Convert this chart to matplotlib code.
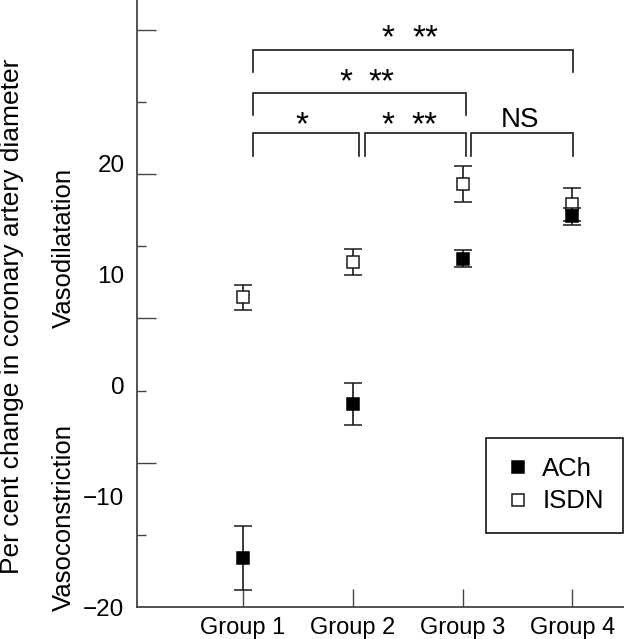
import numpy as np
import matplotlib
matplotlib.use('Agg')
import matplotlib.pyplot as plt

plt.rcParams['font.family'] = ['Liberation Sans', 'DejaVu Sans']

groups = ['Group 1', 'Group 2', 'Group 3', 'Group 4']
ach = [-15.6, -1.7, 11.4, 15.2]
ach_err = [2.9, 1.9, 0.8, 0.8]
isdn = [7.9, 11.1, 18.1, 16.3]
isdn_err = [1.1, 1.2, 1.6, 1.5]

# significance brackets: (x start, x end, top, drop)
brackets = [
    (1.09, 2.06, 22.7, 20.6),
    (2.11, 3.03, 22.7, 20.6),
    (3.08, 4.01, 22.7, 20.6),
    (1.09, 3.03, 26.3, 24.3),
    (1.09, 4.01, 30.2, 28.2),
]
# significance labels: (x, y baseline, text)
sig_labels = [
    (1.535, 22.6, '*'), (2.32, 22.6, '*'), (2.65, 22.6, '**'),
    (1.94, 26.5, '*'), (2.26, 26.5, '**'),
    (2.32, 30.4, '*'), (2.66, 30.4, '**'),
]
ns_label = (3.525, 23.3, 'NS')

line_col = '#1a1a1a'
axis_col = '#444444'

fig = plt.figure(figsize=(6.24, 6.39), dpi=100)
ax = fig.add_axes([137 / 624, 1 - 607 / 639, (624 - 137) / 624, 607 / 639])

x = np.arange(1, len(groups) + 1)

eb_isdn = ax.errorbar(x, isdn, yerr=isdn_err, fmt='s', ms=8.5, mfc='white', mec=line_col,
                      mew=1.1, ecolor=line_col, elinewidth=1.2, capsize=6.5, capthick=1.2,
                      zorder=3)
eb_ach = ax.errorbar(x, ach, yerr=ach_err, fmt='s', ms=8.5, mfc='black', mec='black',
                     mew=1.1, ecolor=line_col, elinewidth=1.2, capsize=6.5, capthick=1.2,
                     zorder=4)

for x0, x1, top, drop in brackets:
    ax.plot([x0, x0, x1, x1], [drop, top, top, drop], color=line_col, lw=1.2,
            solid_joinstyle='miter')

for sx, sy, s in sig_labels:
    ax.text(sx, sy, s, ha='center', va='baseline', fontsize=24, color='black')
ax.text(ns_label[0], ns_label[1], ns_label[2], ha='center', va='baseline', fontsize=20)

ax.set_xlim(0.034, 4.47)
ax.set_ylim(-20, 34.7)

ax.spines['top'].set_visible(False)
ax.spines['right'].set_visible(False)
for side in ['left', 'bottom']:
    ax.spines[side].set_color(axis_col)
    ax.spines[side].set_linewidth(1.3)

ax.set_xticks(x)
ax.set_xticklabels(groups, fontsize=17)
ax.tick_params(axis='x', direction='in', length=13, width=1.0, color=axis_col, pad=7)

ax.set_yticks([-7, 6, 19, 32])
ax.set_yticks([-13.5, -0.5, 12.5, 25.5], minor=True)
ax.tick_params(axis='y', which='major', direction='in', length=13.5, width=1.0,
               color=axis_col, labelleft=False)
ax.tick_params(axis='y', which='minor', direction='in', length=6.5, width=1.0,
               color=axis_col)

sec = ax.secondary_yaxis('left')
sec.set_yticks([-20, -10, 0, 10, 20])
sec.set_yticklabels(['\u221220', '\u221210', '0', '10', '20'], fontsize=17.5)
sec.tick_params(length=0, pad=9)
sec.spines['left'].set_visible(False)

leg = ax.legend([eb_ach[0], eb_isdn[0]], ['ACh', 'ISDN'], loc='upper right',
                bbox_to_anchor=(623 / 624, 1 - 438 / 639), bbox_transform=fig.transFigure,
                fontsize=18.5, frameon=True, fancybox=False, edgecolor='black',
                framealpha=1, borderaxespad=0, handlelength=1.0, handletextpad=0.45,
                borderpad=0.75, labelspacing=0.32)
leg.get_frame().set_linewidth(1.1)

fig.text(0.019, 0.505, 'Per cent change in coronary artery diameter', rotation=90,
         ha='center', va='center', fontsize=19)
fig.text(0.103, 0.612, 'Vasodilatation', rotation=90, ha='center', va='center', fontsize=18.5)
fig.text(0.103, 0.19, 'Vasoconstriction', rotation=90, ha='center', va='center', fontsize=18.5)

fig.savefig('out.png', dpi=100)
